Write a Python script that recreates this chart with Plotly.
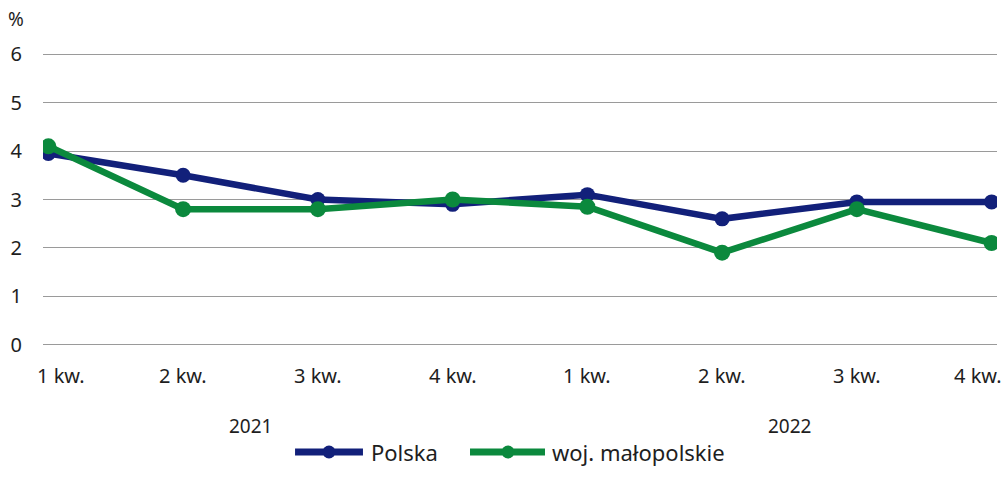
import plotly.graph_objects as go

quarters = ["1 kw.", "2 kw.", "3 kw.", "4 kw.", "1 kw.", "2 kw.", "3 kw.", "4 kw."]
years = ["2021", "2022"]
series_names = ["Polska", "woj. małopolskie"]
polska = [3.95, 3.5, 3.0, 2.9, 3.1, 2.6, 2.95, 2.95]
malopolskie = [4.1, 2.8, 2.8, 3.0, 2.85, 1.9, 2.8, 2.1]
y_ticks = [0, 1, 2, 3, 4, 5, 6]

NAVY = "#12207a"
GREEN = "#0b893d"
FONT = "Noto Sans"
TXT = "#1e1e1e"

x = list(range(len(quarters)))

fig = go.Figure()
fig.add_trace(go.Scatter(x=x, y=polska, name=series_names[0], mode="lines+markers",
                         line=dict(color=NAVY, width=6.5), marker=dict(size=15, color=NAVY)))
fig.add_trace(go.Scatter(x=x, y=malopolskie, name=series_names[1], mode="lines+markers",
                         line=dict(color=GREEN, width=6.5), marker=dict(size=16, color=GREEN)))

# plot area: top 52px, height 295px
annotations = []
for i, q in enumerate(quarters):
    shift = 0
    if i == 0:
        shift = 13
    elif i == len(quarters) - 1:
        shift = -14
    annotations.append(dict(x=i, y=0, xref="x", yref="y", text=q, showarrow=False,
                            yanchor="middle", yshift=-31, xshift=shift,
                            font=dict(family=FONT, size=20, color=TXT)))
for j, yr in enumerate(years):
    annotations.append(dict(x=j * 4 + 1.5, y=0, xref="x", yref="y", text=yr, showarrow=False,
                            yanchor="middle", yshift=-81,
                            font=dict(family=FONT, size=19, color=TXT)))
annotations.append(dict(x=-0.0283, y=(347 - 19) / 295, xref="paper", yref="paper", text="%",
                        showarrow=False, xanchor="center", yanchor="middle",
                        font=dict(family=FONT, size=19, color=TXT)))

# manual legend (line + dot + label)
shapes = []
leg_y = (347 - 452) / 295
leg_items = [
    (series_names[0], NAVY, 0.2642, 0.3354, 0.2998, 0.3417),
    (series_names[1], GREEN, 0.4476, 0.5262, 0.4874, 0.5314),
]
for name, col, lx0, lx1, mx, tx in leg_items:
    shapes.append(dict(type="line", xref="paper", yref="paper", x0=lx0, x1=lx1, y0=leg_y, y1=leg_y,
                       line=dict(color=col, width=7)))
    shapes.append(dict(type="circle", xref="paper", yref="paper", xsizemode="pixel", ysizemode="pixel",
                       xanchor=mx, yanchor=leg_y, x0=-6.5, x1=6.5, y0=-6.5, y1=6.5,
                       fillcolor=col, line=dict(color=col, width=0)))
    annotations.append(dict(x=tx, y=leg_y, xref="paper", yref="paper", text=name, showarrow=False,
                            xanchor="left", yanchor="middle",
                            font=dict(family=FONT, size=22, color=TXT)))

fig.update_layout(
    width=1003, height=488,
    margin=dict(l=43, r=6, t=52, b=141),
    plot_bgcolor="white", paper_bgcolor="white",
    font=dict(family=FONT, size=20, color=TXT),
    showlegend=False,
    annotations=annotations,
    shapes=shapes,
)
fig.update_xaxes(range=[-0.04, 7.04], showticklabels=False, showgrid=False,
                 zeroline=False, showline=False, fixedrange=True)
fig.update_yaxes(range=[-0.05, 6.05], tickvals=y_ticks, showgrid=True, gridcolor="#9a9a9a",
                 gridwidth=1, zeroline=False, showline=False, automargin=False,
                 ticklabelstandoff=20, tickfont=dict(family=FONT, size=20, color=TXT))

fig.write_html("out.html", config={"displayModeBar": False},
               post_script="document.body.style.margin='0';")
